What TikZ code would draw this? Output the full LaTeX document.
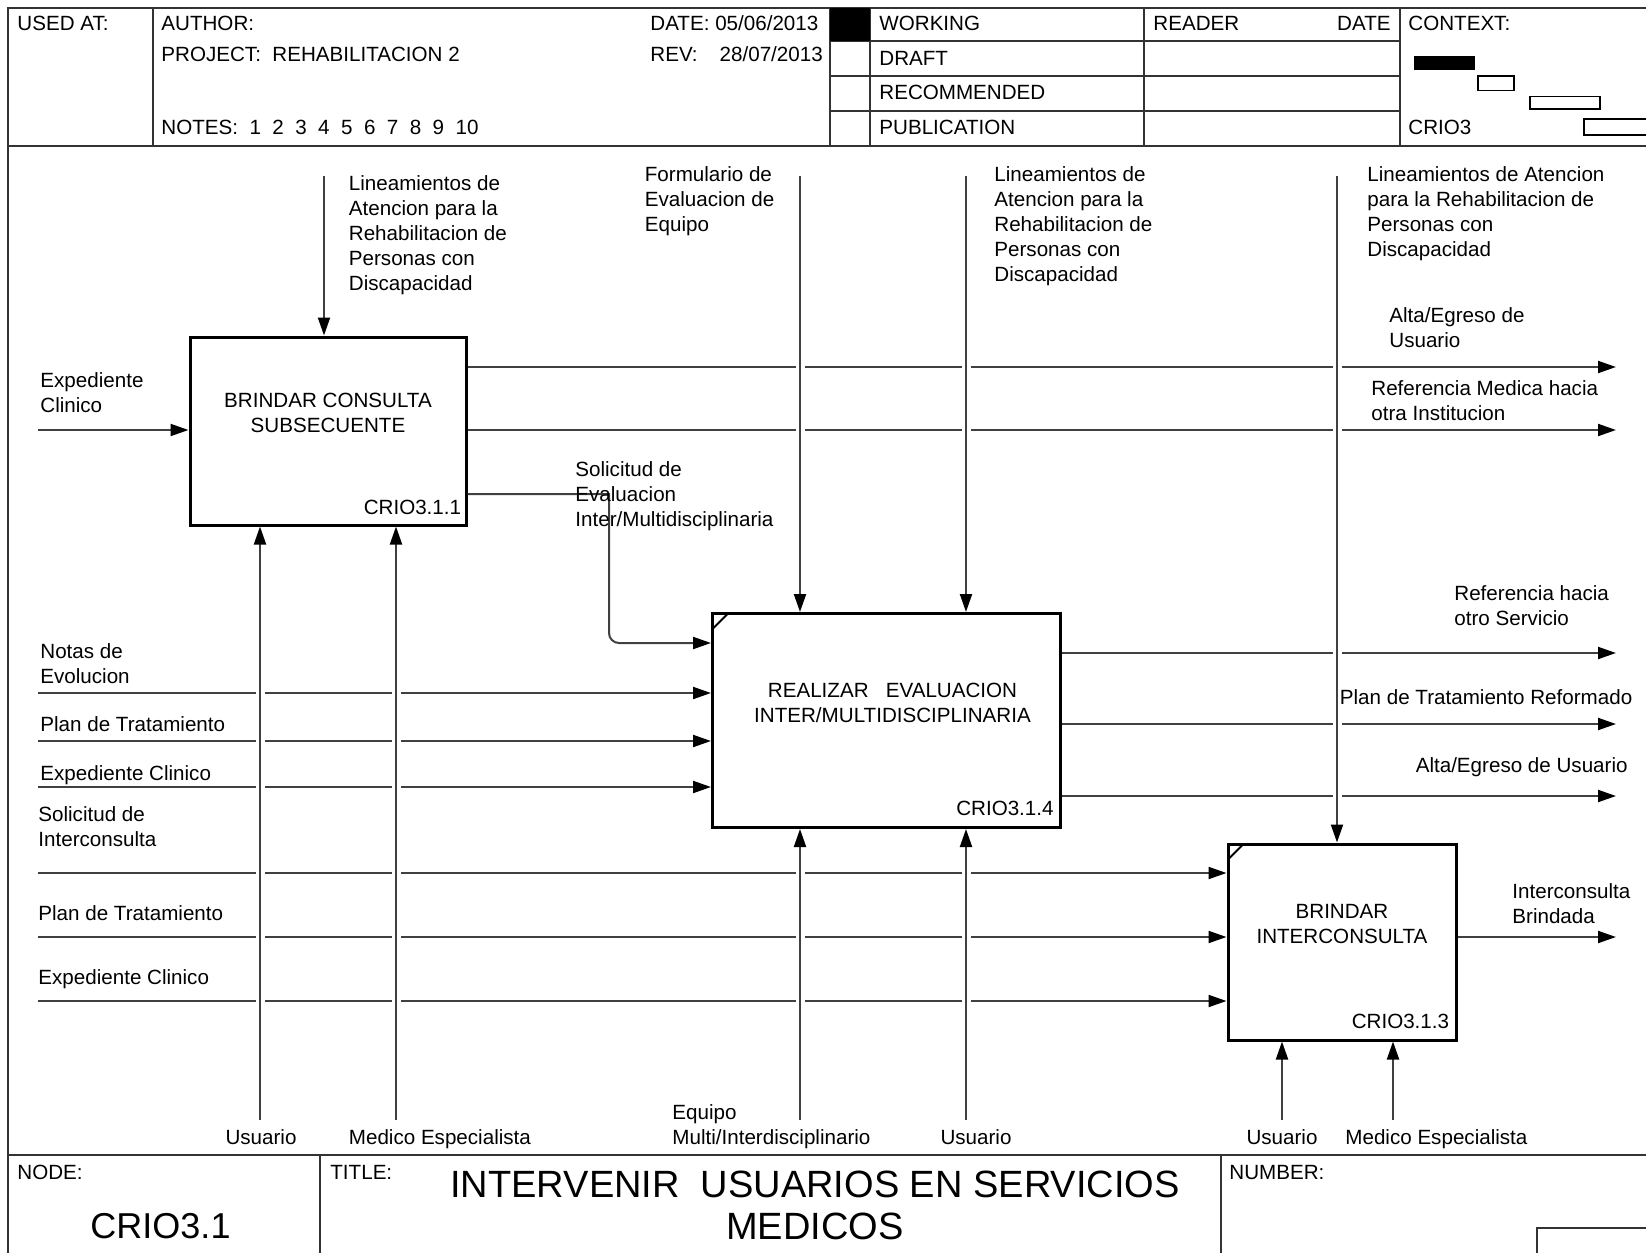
\documentclass[tikz,border=0pt]{standalone}
\usepackage{fontspec}
\setmainfont{Liberation Sans}
\usetikzlibrary{arrows.meta}

\begin{document}
\begin{tikzpicture}[
        x=0.5pt, y=-0.5pt,
        every node/.style={inner sep=0pt, font=\fontsize{10.3}{12.5}\selectfont},
        sheet/.style={draw=black!80, line width=1pt},
        actbox/.style={draw, line width=1.5pt, fill=white},
        flow/.style={draw=black!75, line width=1pt, -{Triangle[length=9pt, width=6pt, black]}},
        hop/.style={preaction={draw=white, line width=4.5pt, -}},
        lbl/.style={anchor=base west, align=left},
        idtag/.style={anchor=base east}
        ]
        \useasboundingbox (0,0) rectangle (1646,1253);

        % Sheet frame
        \draw[sheet] (8,1260) -- (8,8) -- (1660,8);
        \draw[sheet] (8,146) -- (1660,146);
        \draw[sheet] (8,1155) -- (1660,1155);
        \draw[sheet] (153,8) -- (153,146);
        \draw[sheet] (830,8) -- (830,146);
        \draw[sheet] (870,8) -- (870,146);
        \draw[sheet] (1144,8) -- (1144,146);
        \draw[sheet] (1400,8) -- (1400,146);
        \draw[sheet] (830,41) -- (1400,41);
        \draw[sheet] (830,75.5) -- (1400,75.5);
        \draw[sheet] (830,110.5) -- (1400,110.5);
        \fill (830,8) rectangle (870,41);
        \draw[sheet] (320,1155) -- (320,1260);
        \draw[sheet] (1221,1155) -- (1221,1260);
        \draw[sheet] (1537,1260) |- (1660,1228);

        % Context boxes
        \fill (1414,56) rectangle (1475,70);
        \draw[line width=0.8pt] (1478,76) rectangle (1514,90.5);
        \draw[line width=0.8pt] (1530,96.5) rectangle (1600,109);
        \draw[line width=0.8pt] (1584,119) rectangle (1660,135);

        % Header text
        \node[lbl] (usedat) at (17,30) {USED AT:};
        \node[lbl] (author) at (161,30) {AUTHOR:};
        \node[lbl] (project) at (161,61) {PROJECT:\ \ REHABILITACION 2};
        \node[lbl] (notes) at (161,134) {NOTES:\ \ 1\ \ 2\ \ 3\ \ 4\ \ 5\ \ 6\ \ 7\ \ 8\ \ 9\ \ 10};
        \node[lbl] (date) at (650,30) {DATE: 05/06/2013};
        \node[lbl] (rev) at (650,61) {REV:\hspace{11pt}28/07/2013};
        \node[lbl] (working) at (879,30) {WORKING};
        \node[lbl] (draft) at (879,65) {DRAFT};
        \node[lbl] (recommended) at (879,99) {RECOMMENDED};
        \node[lbl] (publication) at (879,134) {PUBLICATION};
        \node[lbl] (reader) at (1153,30) {READER};
        \node[idtag] (readerdate) at (1391,30) {DATE};
        \node[lbl] (context) at (1408,30) {CONTEXT:};
        \node[lbl] (ctxnode) at (1408,134) {CRIO3};

        % Footer text
        \node[lbl] (nodelbl) at (17,1179) {NODE:};
        \node[lbl] (titlelbl) at (330,1179) {TITLE:};
        \node[lbl] (numberlbl) at (1229,1179) {NUMBER:};
        \node[anchor=base, font=\fontsize{18}{21}\selectfont] (nodeid) at (160.5,1238) {CRIO3.1};
        \node[anchor=base, align=center, font=\fontsize{19}{21}\selectfont] (title) at (815,1239.5)
            {INTERVENIR\ \ USUARIOS EN SERVICIOS\\MEDICOS};

        % Define the activity boxes
        \node[actbox, minimum width=138pt, minimum height=94pt] (b1) at (328,431) {};
        \node[actbox, minimum width=174pt, minimum height=107pt] (b2) at (886.5,720.5) {};
        \node[actbox, minimum width=114pt, minimum height=98pt] (b3) at (1342,942) {};

        % Free ends of the arrows
        \coordinate (c11) at (324,176);
        \coordinate (c21) at (800,176);
        \coordinate (c22) at (966,176);
        \coordinate (c31) at (1337,176);
        \coordinate (i11) at (38,430);
        \coordinate (i21) at (38,693);
        \coordinate (i22) at (38,741);
        \coordinate (i23) at (38,787);
        \coordinate (i31) at (38,873);
        \coordinate (i32) at (38,937);
        \coordinate (i33) at (38,1001);
        \coordinate (o11) at (1616,367);
        \coordinate (o12) at (1616,430);
        \coordinate (o21) at (1616,653);
        \coordinate (o22) at (1616,724);
        \coordinate (o23) at (1616,796);
        \coordinate (o31) at (1616,937);
        \coordinate (sa) at (609,494);
        \coordinate (sb) at (609,643);
        \coordinate (m11) at (260,1120);
        \coordinate (m12) at (396,1120);
        \coordinate (m21) at (800,1120);
        \coordinate (m22) at (966,1120);
        \coordinate (m31) at (1282,1120);
        \coordinate (m32) at (1393,1120);

        % Draw the horizontal arrows
        \draw[flow] (i11) -- (i11 -| b1.west);
        \draw[flow] (i21) -- (i21 -| b2.west);
        \draw[flow] (i22) -- (i22 -| b2.west);
        \draw[flow] (i23) -- (i23 -| b2.west);
        \draw[flow] (i31) -- (i31 -| b3.west);
        \draw[flow] (i32) -- (i32 -| b3.west);
        \draw[flow] (i33) -- (i33 -| b3.west);
        \draw[flow] (o11 -| b1.east) -- (o11);
        \draw[flow] (o12 -| b1.east) -- (o12);
        \draw[flow] (sa -| b1.east) -- (sa) [rounded corners=5pt] -- (sb) -- (sb -| b2.west);
        \draw[flow] (o21 -| b2.east) -- (o21);
        \draw[flow] (o22 -| b2.east) -- (o22);
        \draw[flow] (o23 -| b2.east) -- (o23);
        \draw[flow] (o31 -| b3.east) -- (o31);

        % Draw the vertical arrows over them
        \draw[flow, hop] (c11) -- (c11 |- b1.north);
        \draw[flow, hop] (c21) -- (c21 |- b2.north);
        \draw[flow, hop] (c22) -- (c22 |- b2.north);
        \draw[flow, hop] (c31) -- (c31 |- b3.north);
        \draw[flow, hop] (m11) -- (m11 |- b1.south);
        \draw[flow, hop] (m12) -- (m12 |- b1.south);
        \draw[flow, hop] (m21) -- (m21 |- b2.south);
        \draw[flow, hop] (m22) -- (m22 |- b2.south);
        \draw[flow, hop] (m31) -- (m31 |- b3.south);
        \draw[flow, hop] (m32) -- (m32 |- b3.south);

        % Box texts and corner marks
        \node[align=center] (b1txt) at ([yshift=9pt]b1.center) {BRINDAR CONSULTA\\SUBSECUENTE};
        \node[align=center] (b2txt) at ([xshift=3pt, yshift=9pt]b2.center) {REALIZAR~~~EVALUACION\\INTER/MULTIDISCIPLINARIA};
        \node[align=center] (b3txt) at ([yshift=9pt]b3.center) {BRINDAR\\INTERCONSULTA};
        \node[idtag] (b1id) at ([xshift=-3pt, yshift=6pt]b1.south east) {CRIO3.1.1};
        \node[idtag] (b2id) at ([xshift=-4pt, yshift=7pt]b2.south east) {CRIO3.1.4};
        \node[idtag] (b3id) at ([xshift=-4pt, yshift=6.5pt]b3.south east) {CRIO3.1.3};
        \draw[line width=1pt] ([xshift=0.75pt, yshift=-8.5pt]b2.north west) -- ([xshift=8.5pt, yshift=-0.75pt]b2.north west);
        \draw[line width=1pt] ([xshift=0.75pt, yshift=-8.5pt]b3.north west) -- ([xshift=8.5pt, yshift=-0.75pt]b3.north west);

        % Arrow labels (multi-line ones sit on their last line)
        \node[lbl] (lc11) at (348.5,290.5) {Lineamientos de\\Atencion para la\\Rehabilitacion de\\Personas con\\Discapacidad};
        \node[lbl] (lc21) at (644.5,231) {Formulario de\\Evaluacion de\\Equipo};
        \node[lbl] (lc22) at (994,281) {Lineamientos de\\Atencion para la\\Rehabilitacion de\\Personas con\\Discapacidad};
        \node[lbl] (lc31) at (1367,256) {Lineamientos de Atencion\\para la Rehabilitacion de\\Personas con\\Discapacidad};
        \node[lbl] (li11) at (40,412) {Expediente\\Clinico};
        \node[lbl] (li21) at (40,683) {Notas de\\Evolucion};
        \node[lbl] (li22) at (40,731) {Plan de Tratamiento};
        \node[lbl] (li23) at (40,780) {Expediente Clinico};
        \node[lbl] (li31) at (38,846) {Solicitud de\\Interconsulta};
        \node[lbl] (li32) at (38,920) {Plan de Tratamiento};
        \node[lbl] (li33) at (38,984) {Expediente Clinico};
        \node[lbl] (lo11) at (1389,347) {Alta/Egreso de\\Usuario};
        \node[lbl] (lo12) at (1371,420) {Referencia Medica hacia\\otra Institucion};
        \node[lbl] (ls) at (575,526) {Solicitud de\\Evaluacion\\Inter/Multidisciplinaria};
        \node[lbl] (lo21) at (1454,625) {Referencia hacia\\otro Servicio};
        \node[lbl] (lo22) at (1339.5,704) {Plan de Tratamiento Reformado};
        \node[idtag] (lo23) at (1628,772) {Alta/Egreso de Usuario};
        \node[lbl] (lo31) at (1512,923) {Interconsulta\\Brindada};
        \node[anchor=base] (lm11) at (261,1144) {Usuario};
        \node[lbl] (lm12) at (348.5,1144) {Medico Especialista};
        \node[lbl] (lm21) at (672,1144) {Equipo\\Multi/Interdisciplinario};
        \node[anchor=base] (lm22) at (976,1144) {Usuario};
        \node[anchor=base] (lm31) at (1282,1144) {Usuario};
        \node[lbl] (lm32) at (1345,1144) {Medico Especialista};
    \end{tikzpicture}
\end{document}
